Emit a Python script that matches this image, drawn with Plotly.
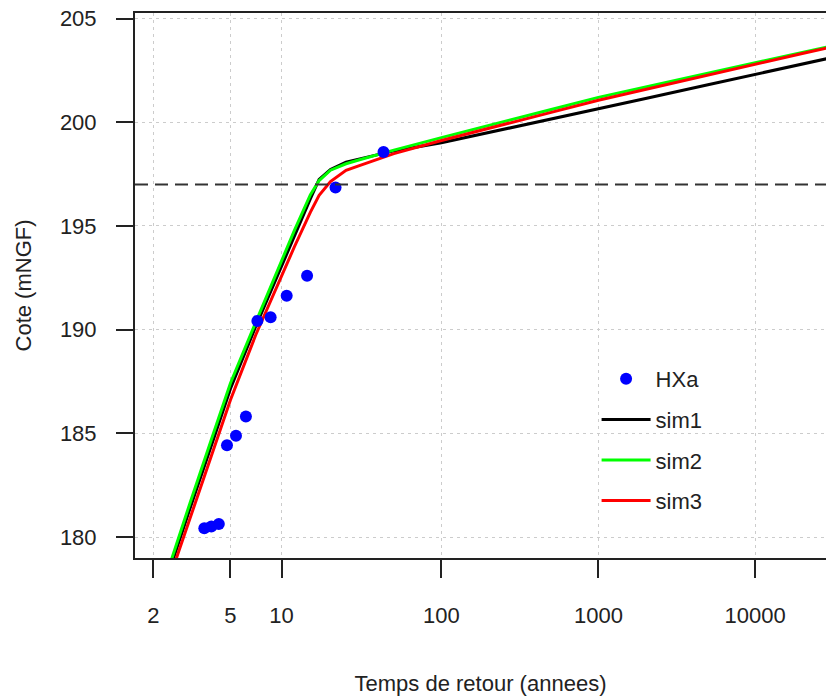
import numpy as np
import plotly.graph_objects as go

# ---- data ----
T_obs = [43.0, 21.5, 14.33, 10.75, 8.6, 7.17, 6.14, 5.38, 4.78, 4.3, 3.91, 3.58]
HXa = [198.57, 196.86, 192.60, 191.64, 190.60, 190.42, 185.81, 184.88, 184.43, 180.63, 180.51, 180.43]

T_sim = [2, 2.5, 3, 4, 5, 7, 10, 12, 15, 17, 20, 25, 30, 50, 100, 200, 500, 1000,
         2000, 5000, 10000, 20000, 30000]
sim1 = [176.05, 179.10, 181.35, 184.67, 187.15, 190.14, 193.09, 194.56, 196.30, 197.25,
        197.72, 198.08, 198.23, 198.62, 199.01, 199.50, 200.16, 200.65, 201.15, 201.81,
        202.31, 202.81, 203.10]
sim2 = [176.24, 179.34, 181.61, 184.96, 187.42, 190.34, 193.33, 194.80, 196.50, 197.19,
        197.69, 198.00, 198.18, 198.66, 199.26, 199.86, 200.62, 201.20, 201.71, 202.37,
        202.87, 203.37, 203.66]
sim3 = [175.72, 178.63, 180.81, 184.09, 186.61, 189.73, 192.61, 194.01, 195.66, 196.48,
        197.14, 197.68, 197.90, 198.49, 199.12, 199.72, 200.48, 201.06, 201.59, 202.27,
        202.80, 203.32, 203.61]

threshold = 197.0
x_ticks = [2, 5, 10, 100, 1000, 10000]
y_ticks = [180, 185, 190, 195, 200, 205]
x_range_T = [1.677, 28340]
y_range = [178.99, 205.27]


def gumbel(T):
    """Gumbel reduced variate for a return period T."""
    T = np.asarray(T, dtype=float)
    return -np.log(-np.log(1.0 - 1.0 / T))


FONT = "Arial, Liberation Sans, sans-serif"
AX = "#222222"

fig = go.Figure()
for name, vals, col in [("sim1", sim1, "#000000"), ("sim2", sim2, "#00ff00"), ("sim3", sim3, "#ff0000")]:
    fig.add_trace(go.Scatter(
        x=gumbel(T_sim), y=vals, mode="lines", name=name,
        line=dict(color=col, width=3), legendgroup=name,
        legendrank={"sim1": 2, "sim2": 3, "sim3": 4}[name]))

fig.add_trace(go.Scatter(
    x=gumbel(T_obs), y=HXa, mode="markers", name="HXa", legendgroup="HXa",
    marker=dict(color="#0000ff", size=12, symbol="circle"), legendrank=1))

fig.add_shape(type="line", xref="paper", x0=0, x1=1, yref="y", y0=threshold, y1=threshold,
              line=dict(color="#333333", width=2, dash="13px,7px"))

fig.update_layout(
    width=826, height=700,
    margin=dict(l=135, r=0, t=13, b=142),
    plot_bgcolor="white", paper_bgcolor="white",
    font=dict(family=FONT, size=22, color="#222222"),
    showlegend=True,
    legend=dict(x=0.668, y=0.367, xanchor="left", yanchor="top",
                bgcolor="rgba(0,0,0,0)", borderwidth=0,
                font=dict(size=22, color="#222222"),
                tracegroupgap=9, itemwidth=49),
)

fig.update_xaxes(
    range=list(gumbel(x_range_T)), tickmode="array",
    tickvals=list(gumbel(x_ticks)), ticktext=[str(t) for t in x_ticks],
    showgrid=True, gridcolor="#cccccc", gridwidth=1, griddash="3px,4px",
    zeroline=False, showline=True, linecolor=AX, linewidth=2, mirror=True,
    ticks="outside", ticklen=18, tickwidth=2, tickcolor=AX,
    ticklabelstandoff=19,
    title=dict(text="Temps de retour (annees)", standoff=48, font=dict(size=22)),
)
fig.update_yaxes(
    range=y_range, tickmode="array", tickvals=y_ticks,
    showgrid=True, gridcolor="#cccccc", gridwidth=1, griddash="3px,4px",
    zeroline=False, showline=True, linecolor=AX, linewidth=2, mirror=False,
    ticks="outside", ticklen=17, tickwidth=2, tickcolor=AX,
    ticklabelstandoff=15,
    title=dict(text="Cote (mNGF)", standoff=22, font=dict(size=22)),
)

fig.write_html("out.html")
